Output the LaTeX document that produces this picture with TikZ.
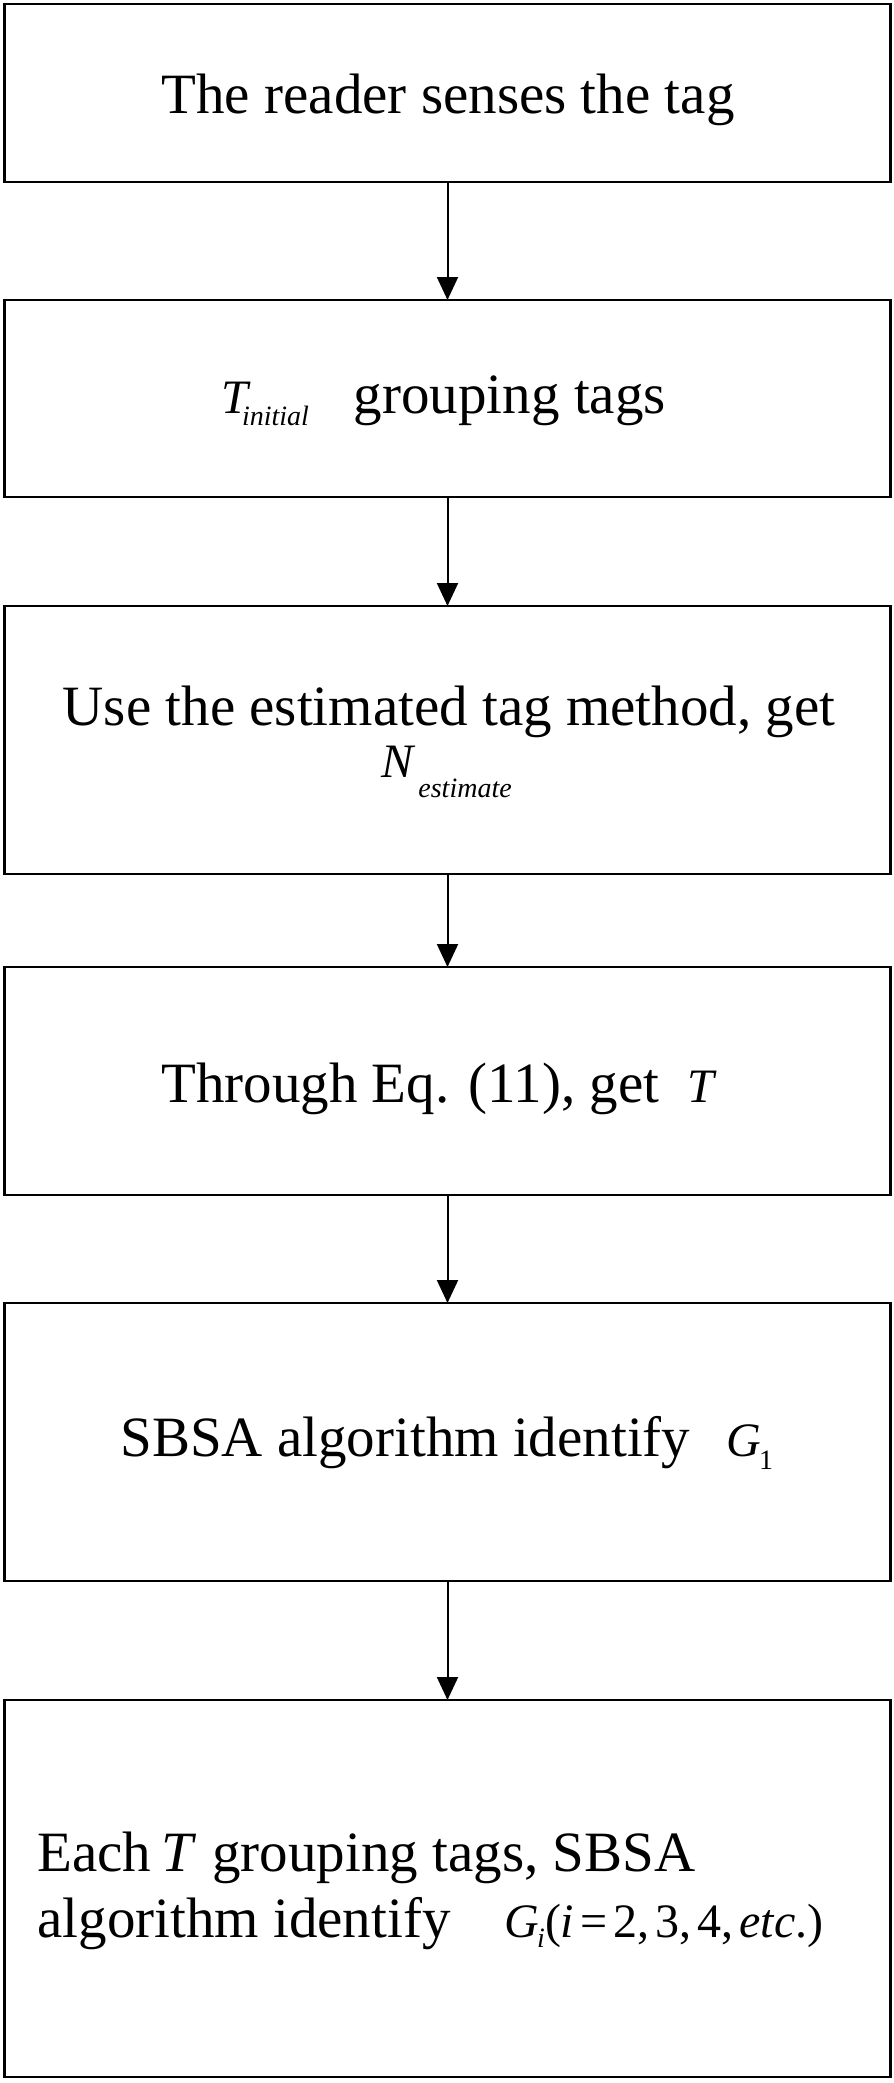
\documentclass[tikz,border=0pt]{standalone}
\usepackage{fontspec}
\setmainfont{Liberation Serif}
\usetikzlibrary{arrows.meta}
\newcommand{\mysub}[2][6pt]{\raisebox{-#1}{\fontsize{14}{14}\selectfont #2}}
\newcommand{\mathsz}{\fontsize{24}{24}\selectfont}
\begin{document}
\begin{tikzpicture}[x=0.5pt,y=-0.5pt,
  box/.style={draw,line width=1.4pt,minimum width=443pt,inner sep=0pt,outer sep=0pt},
  txt/.style={inner sep=0pt,font=\fontsize{28.5}{33}\selectfont},
  arr/.style={line width=1pt,-{Triangle[length=11.5pt,width=10.5pt]}}]
\useasboundingbox (0,0) rectangle (894,2083);
% boxes
\node[box,minimum height=89pt]   (b1) at (447.5,93) {};
\node[box,minimum height=98.5pt] (b2) at (447.5,398.5) {};
\node[box,minimum height=134pt]  (b3) at (447.5,740) {};
\node[box,minimum height=114pt]  (b4) at (447.5,1081) {};
\node[box,minimum height=139pt]  (b5) at (447.5,1442) {};
\node[box,minimum height=188.5pt](b6) at (447.5,1888.5) {};
% texts
\node[txt,anchor=base] (t1) at (448,113) {The reader senses the tag};
\node[txt,anchor=base west] (t2) at (221,413) {{\mathsz\itshape T}\hspace{-3pt}\mysub[6.2pt]{\itshape initial}\hspace{22.5pt}grouping tags};
\node[txt,anchor=base] (t3a) at (449,725) {Use the estimated tag method, get};
\node[txt,anchor=base west] (t3b) at (381,777) {{\mathsz\itshape N}\hspace{2.5pt}\mysub[10pt]{\itshape estimate}};
\node[txt,anchor=base west] (t4) at (161,1102) {Through Eq. (11), get\hspace{14pt}{\mathsz\itshape T}};
\node[txt,anchor=base west] (t5) at (120,1456) {SBSA algorithm identify\hspace{18pt}{\mathsz\itshape G}\hspace{-1pt}\mysub[6.5pt]{1}};
\node[txt,anchor=base west] (t6a) at (37,1871) {Each\hspace{5pt}\textit{T}\hspace{8pt}grouping tags, SBSA};
\node[txt,anchor=base west] (t6b) at (37,1937) {algorithm identify\hspace{27pt}{\mathsz\itshape G\hspace{-1pt}\mysub[5pt]{\itshape i}\upshape(\textit{i}\hspace{3pt}=\hspace{3pt}2,\hspace{3pt}3,\hspace{3pt}4,\hspace{3pt}\textit{etc}.)}};
% connectors
\draw[arr] (b1) -- (b2);
\draw[arr] (b2) -- (b3);
\draw[arr] (b3) -- (b4);
\draw[arr] (b4) -- (b5);
\draw[arr] (b5) -- (b6);
\end{tikzpicture}
\end{document}
